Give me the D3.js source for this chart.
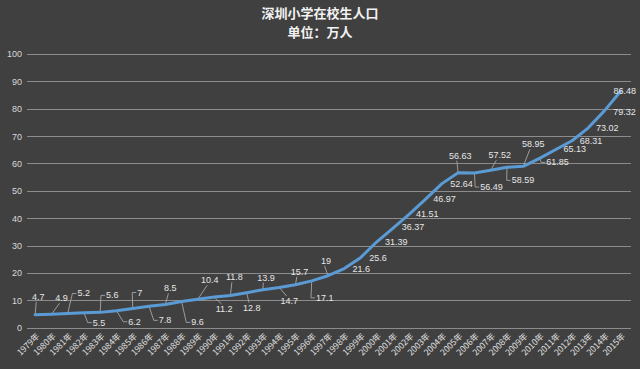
<!DOCTYPE html>
<html><head><meta charset="utf-8">
<script src="https://cdn.jsdelivr.net/npm/d3@7"></script>
<style>
html,body{margin:0;padding:0;background:#404040;}
svg{display:block;}
</style></head>
<body>
<svg id="chart" width="640" height="369"></svg>
<script>
const titleLines = ["深圳小学在校生人口", "单位：万人"];
const years = ["1979年","1980年","1981年","1982年","1983年","1984年","1985年","1986年","1987年","1988年","1989年","1990年","1991年","1992年","1993年","1994年","1995年","1996年","1997年","1998年","1999年","2000年","2001年","2002年","2003年","2004年","2005年","2006年","2007年","2008年","2009年","2010年","2011年","2012年","2013年","2014年","2015年"];
const values = [4.7,4.9,5.2,5.5,5.6,6.2,7,7.8,8.5,9.6,10.4,11.2,11.8,12.8,13.9,14.7,15.7,17.1,19,21.6,25.6,31.39,36.37,41.51,46.97,52.64,56.63,56.49,57.52,58.59,58.95,61.85,65.13,68.31,73.02,79.32,86.48];
const yTicks = [0,10,20,30,40,50,60,70,80,90,100];
// label placement offsets (pixels, relative to each point) — layout only
const labelDx = [3,10,16,15,12,18,7,16,5,16,12,10,4,5,3,10,4,13,-2,17,17.5,19.5,20,18,19,19.5,2,17,9,16,10,18,19,19,19,20,4];
const labelDy = [-18,-16,-20,10,-17,11,-16,14,-16,21,-19,12,-18,15,-12,13.5,-13,17,-15,0,0,0,-1,0,0,0,-17,14,-15,13,-22,4,0,0,0,1,0];

const svg = d3.select("#chart");
const W = 640, H = 369;
svg.append("rect").attr("width",W).attr("height",H).attr("fill","#404040");

const x = d3.scaleBand().domain(years).range([27, 629]);
const y = d3.scaleLinear().domain([0,100]).range([327.7, 54]);
const cx = d => x(d) + x.bandwidth()/2;

// title
svg.append("g").selectAll("text").data(titleLines).join("text")
  .attr("x", 320).attr("y", (d,i)=> 18 + i*19)
  .attr("text-anchor","middle")
  .attr("font-family","'Noto Sans CJK SC', sans-serif")
  .attr("font-weight","bold").attr("font-size", 13)
  .attr("fill","#f2f2f2").text(d=>d);

// gridlines
svg.append("g").selectAll("line").data(yTicks).join("line")
  .attr("x1", 27).attr("x2", 631)
  .attr("y1", d=>Math.round(y(d))+0.5).attr("y2", d=>Math.round(y(d))+0.5)
  .attr("stroke","#8c8c8c").attr("stroke-width",1.2);

// y axis via d3 axis
const yAxis = svg.append("g").attr("transform","translate(24,0)")
  .call(d3.axisLeft(y).tickValues(yTicks).tickSize(0).tickPadding(2));
yAxis.select(".domain").remove();
yAxis.selectAll("text").attr("fill","#d9d9d9").attr("font-size",9)
  .attr("font-family","'Liberation Sans', Arial, sans-serif");

// x axis
const xAxis = svg.append("g").attr("transform","translate(0,327.7)")
  .call(d3.axisBottom(x).tickSize(0).tickPadding(0));
xAxis.select(".domain").remove();
xAxis.selectAll(".tick text")
  .attr("fill","#e0e0e0").attr("font-size",8.5)
  .attr("font-family","'Noto Sans CJK SC', sans-serif")
  .attr("text-anchor","end")
  .attr("dy", null).attr("y", null)
  .attr("transform","translate(5,9) rotate(-45)");

// data
const data = years.map((yr,i)=>({yr, v:values[i], dx:labelDx[i], dy:labelDy[i]}));

// line
svg.append("path").datum(data)
  .attr("fill","none").attr("stroke","#5b9bd5").attr("stroke-width",3)
  .attr("stroke-linejoin","round").attr("stroke-linecap","round")
  .attr("d", d3.line().x(d=>cx(d.yr)).y(d=>y(d.v)));

// labels
const lg = svg.append("g");
const leaders = svg.insert("g", "path");
data.forEach(d=>{
  const px = cx(d.yr), py = y(d.v);
  const lx = px + d.dx, ly = py + d.dy;
  const t = lg.append("text").attr("x", lx).attr("y", ly)
    .attr("text-anchor","middle").attr("dominant-baseline","central")
    .attr("font-family","'Liberation Sans', Arial, sans-serif")
    .attr("font-size",9).attr("fill","#e6e6e6").text(d.v);
  if (Math.abs(d.dy) >= 3) {
    const bb = t.node().getBBox();
    const left = bb.x, top = bb.y+1, bottom = bb.y + bb.height-1;
    let pts;
    if (px < left - 4) {
      pts = [[px,py],[left-5, ly],[left-1, ly]];
    } else if (d.dy < 0) {
      pts = [[px,py],[lx - bb.width*0.15, bottom+1]];
    } else {
      pts = [[px,py],[lx - bb.width*0.15, top-1]];
    }
    leaders.append("path").attr("d", d3.line()(pts))
      .attr("fill","none").attr("stroke","#a6a6a6").attr("stroke-width",0.9);
  }
});
</script>
</body></html>
